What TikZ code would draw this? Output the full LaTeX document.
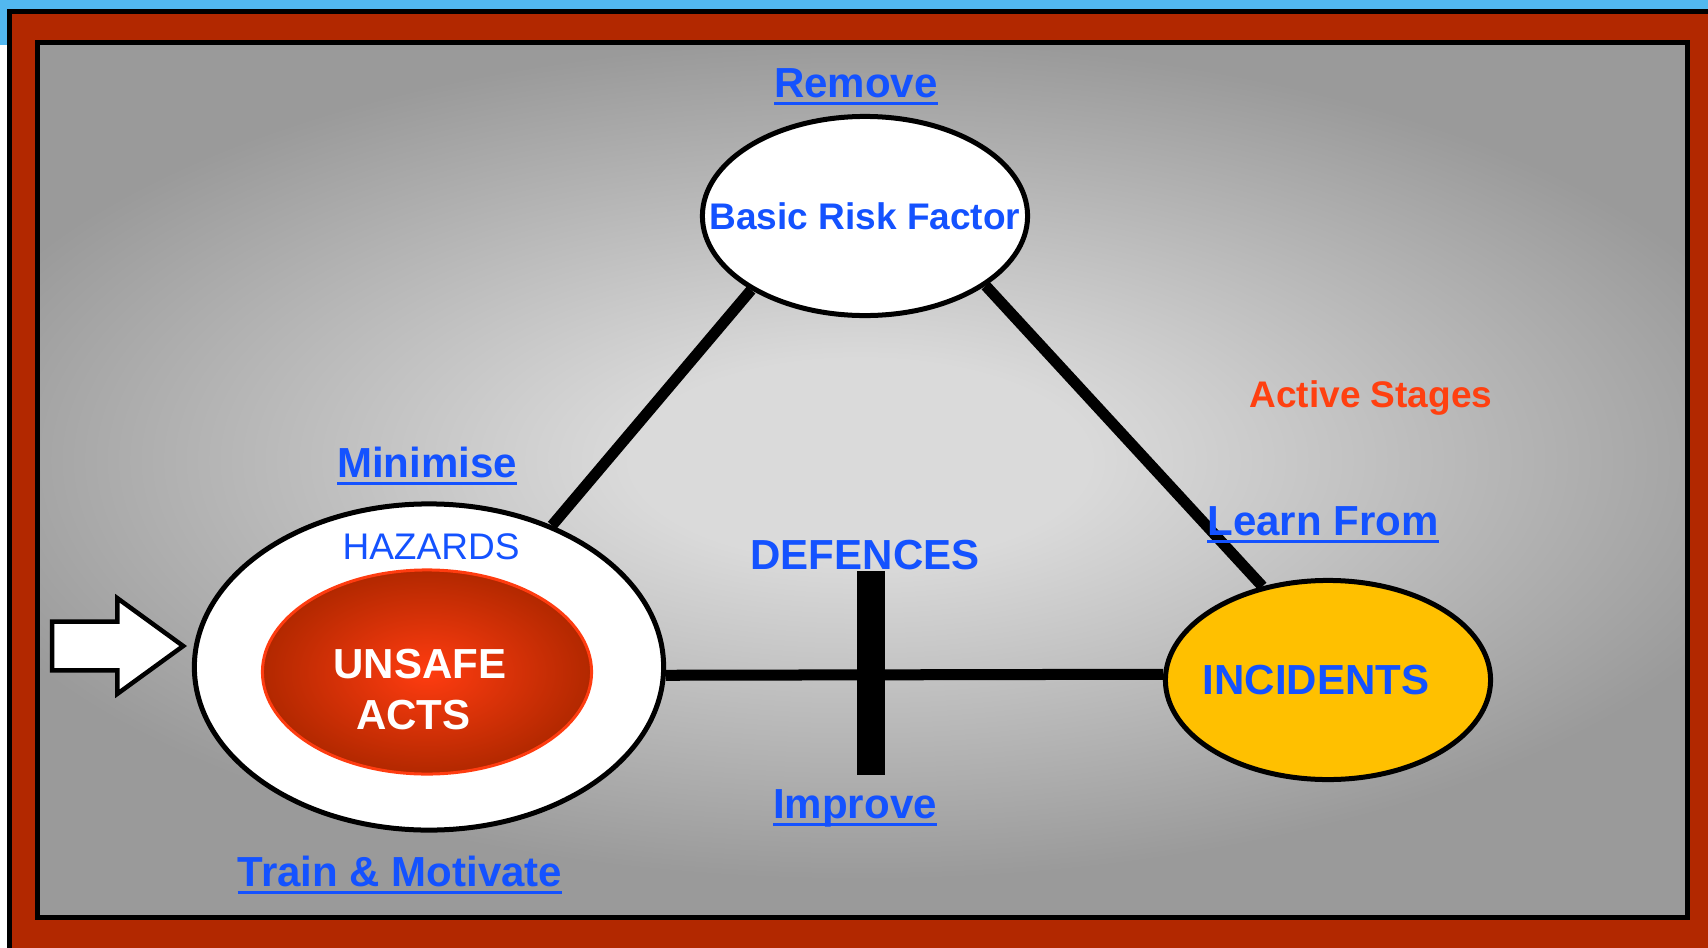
\documentclass[tikz,border=0pt]{standalone}
\usepackage{fontspec}
\setmainfont{Liberation Sans}
\usetikzlibrary{shapes.geometric,shapes.arrows}

\definecolor{linkBlue}{RGB}{20,82,255}
\definecolor{stageRed}{RGB}{255,64,16}
\definecolor{frameRed}{RGB}{178,40,0}
\definecolor{skyBlue}{RGB}{82,184,240}
\definecolor{gold}{RGB}{255,192,0}
\definecolor{actsHot}{RGB}{255,60,16}
\definecolor{actsDark}{RGB}{178,40,0}
\definecolor{bgLight}{RGB}{218,218,218}
\definecolor{bgDark}{RGB}{154,154,154}

\pgfdeclareradialshading{backglow}{\pgfpoint{0bp}{0bp}}{color(0bp)=(bgLight); color(6bp)=(bgLight); color(25bp)=(bgDark); color(50bp)=(bgDark)}

\newcommand{\bigfont}{\fontsize{11.95}{14.5}\selectfont\bfseries}
\newcommand{\midfont}{\fontsize{10.53}{12.6}\selectfont\bfseries}
\newcommand{\smallfont}{\fontsize{10.53}{12.6}\selectfont}
\newcommand{\undl}[1]{\setbox0\hbox{#1}\rlap{\rule[-2.4pt]{\wd0}{0.85pt}}\box0}

\begin{document}
\begin{tikzpicture}
[
                x = 0.01cm,
                y = -0.01cm,
    vertex/.style = { draw=black, fill=white, ellipse, line width=0.05cm, inner sep=0pt, minimum width=3.25cm, minimum height=1.99cm, text=linkBlue },
      core/.style = { draw=actsHot, ellipse, line width=0.03cm, inner sep=0pt, minimum width=3.29cm, minimum height=2.04cm, inner color=actsHot, outer color=actsDark },
       bar/.style = { fill=black, rectangle, inner sep=0pt, minimum width=0.27cm, minimum height=2.03cm },
   pointer/.style = { draw=black, fill=white, single arrow, line width=0.045cm, inner xsep=0pt, inner ysep=0.22cm, minimum height=1.31cm, single arrow head extend=0.235cm, single arrow tip angle=72, anchor=tip },
      link/.style = { draw=black, line width=0.11cm },
       tag/.style = { draw=none, fill=none, anchor=base, inner sep=0pt, text=linkBlue, font=\bigfont }
]

    \useasboundingbox (0,0) rectangle (1708,948);
    \fill[white] (0,0) rectangle (1708,948);
    \fill[skyBlue] (0,0) rectangle (1708,45);
    \draw[line width=0.05cm, fill=frameRed] (9.5,11) rectangle (1720,950);
    \begin{scope}
        \clip (40,45) rectangle (1685,915);
        \fill[bgDark] (40,45) rectangle (1685,915);
        \shade[shading=backglow] (860,460) ellipse (950 and 420);
    \end{scope}
    \draw[line width=0.05cm] (37.5,42.5) rectangle (1687.5,917.5);

    \node (Factor)         at ( 865,216) [vertex, font=\midfont]            {\makebox[0pt]{Basic Risk Factor}};
    \node (Incidents)      at (1328,680) [vertex, fill=gold, font=\bigfont] {\makebox[0pt]{INCIDENTS\hspace*{0.24cm}}};

    \node (Hazards)        at ( 429,667) [vertex, minimum width=4.69cm, minimum height=3.26cm] {};
    \node (Acts)           at ( 427,672) [core]                            {};
    \node (ActsText)       at ( 420,690) [align=center, inner sep=0pt, text=white, font=\bigfont] {UNSAFE\\ACTS\hspace*{0.13cm}};
    \node (HazardsLabel)   at ( 431,559) [tag, font=\smallfont]            {HAZARDS};

    \node (Entry)          at ( 187,646) [pointer]                         {};

    \draw[link] (Factor.213) -- (Hazards.49);
    \draw[link] (Factor.330) -- (Incidents.125);
    \draw[link] (Hazards.358) -- (Incidents.178);

    \node (Barrier)        at ( 871,673) [bar]                             {};

    \node (RemoveLabel)    at ( 856, 97) [tag]                             {\undl{Remove}};
    \node (MinimiseLabel)  at ( 427,477) [tag]                             {\undl{Minimise}};
    \node (TrainLabel)     at ( 400,886) [tag]                             {\undl{Train \& Motivate}};
    \node (DefencesLabel)  at ( 865,569) [tag]                             {DEFENCES};
    \node (ImproveLabel)   at ( 855,818) [tag]                             {\undl{Improve}};
    \node (LearnLabel)     at (1323,535) [tag]                             {\undl{Learn From}};
    \node (ActiveLabel)    at (1371,407) [tag, text=stageRed, font=\midfont] {Active Stages};

\end{tikzpicture}
\end{document}
